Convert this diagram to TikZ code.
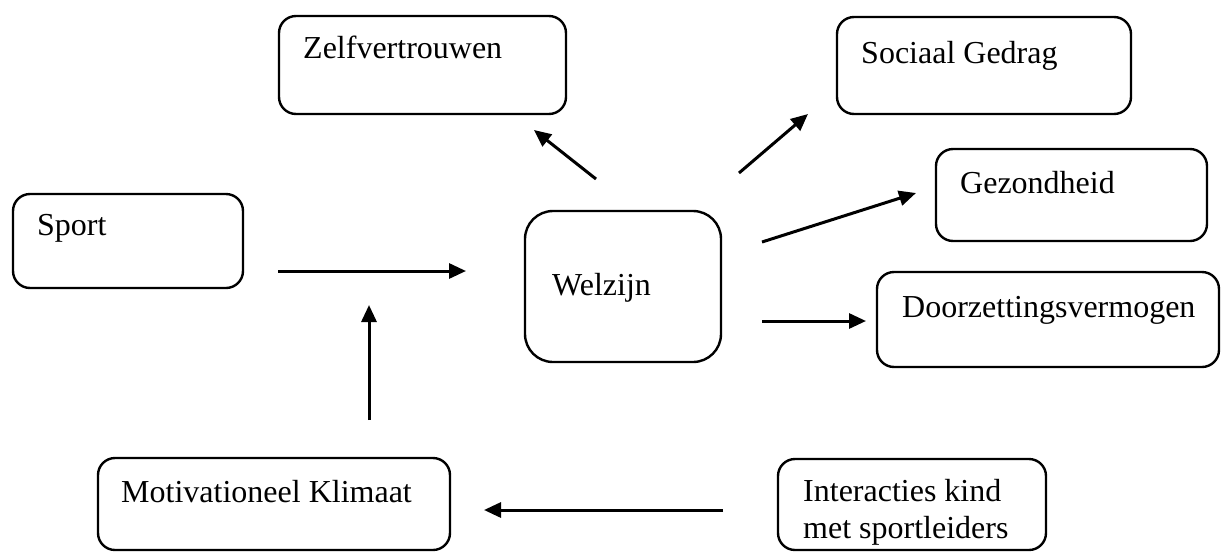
\documentclass[tikz,border=0pt]{standalone}
\usepackage{fontspec}
\setmainfont{Liberation Serif}
\usetikzlibrary{arrows.meta}
\tikzset{
  boxshape/.style={draw=black, line width=2.4pt, rounded corners=17pt},
  bigbox/.style={draw=black, line width=2.4pt, rounded corners=28pt},
  boxtext/.style={anchor=base west, inner sep=0pt, font=\fontsize{32}{37}\selectfont, align=left},
  flow/.style={line width=3pt, -{Triangle[length=17pt,width=15pt]}}
}
\begin{document}
\begin{tikzpicture}[x=1pt,y=-1pt]
\useasboundingbox (0,0) rectangle (1221,555);
% boxes
\draw[boxshape] (279,16) rectangle (566,114);
\draw[boxshape] (837,17) rectangle (1131,114);
\draw[boxshape] (936,149) rectangle (1207,241);
\draw[boxshape] (13,194) rectangle (243,288);
\draw[bigbox] (525,211) rectangle (721,362);
\draw[boxshape] (877,272) rectangle (1219,367);
\draw[boxshape] (98,458) rectangle (450,550);
\draw[boxshape] (778,459) rectangle (1046,550);
% texts
\node[boxtext] (zelf) at (303,58) {Zelfvertrouwen};
\node[boxtext] (soc) at (861,63) {Sociaal Gedrag};
\node[boxtext] (gez) at (960,193) {Gezondheid};
\node[boxtext] (sport) at (37,235) {Sport};
\node[boxtext] (welz) at (552,295) {Welzijn};
\node[boxtext] (doorz) at (902,317) {Doorzettingsvermogen};
\node[boxtext] (motiv) at (121,502) {Motivationeel Klimaat};
\node[boxtext] (inter) at (803,538) {Interacties kind\\met sportleiders};
% arrow ends
\coordinate (a1s) at (278,271); \coordinate (a1e) at (466,271);
\coordinate (a2s) at (369,420); \coordinate (a2e) at (369,305);
\coordinate (a3s) at (723,510); \coordinate (a3e) at (484,510);
\coordinate (a4s) at (596,179); \coordinate (a4e) at (534,130);
\coordinate (a5s) at (739,173); \coordinate (a5e) at (808,114);
\coordinate (a6s) at (762,242); \coordinate (a6e) at (916,193);
\coordinate (a7s) at (762,321); \coordinate (a7e) at (866,321);
\draw[flow] (a1s) -- (a1e);
\draw[flow] (a2s) -- (a2e);
\draw[flow] (a3s) -- (a3e);
\draw[flow] (a4s) -- (a4e);
\draw[flow] (a5s) -- (a5e);
\draw[flow] (a6s) -- (a6e);
\draw[flow] (a7s) -- (a7e);
\end{tikzpicture}
\end{document}
